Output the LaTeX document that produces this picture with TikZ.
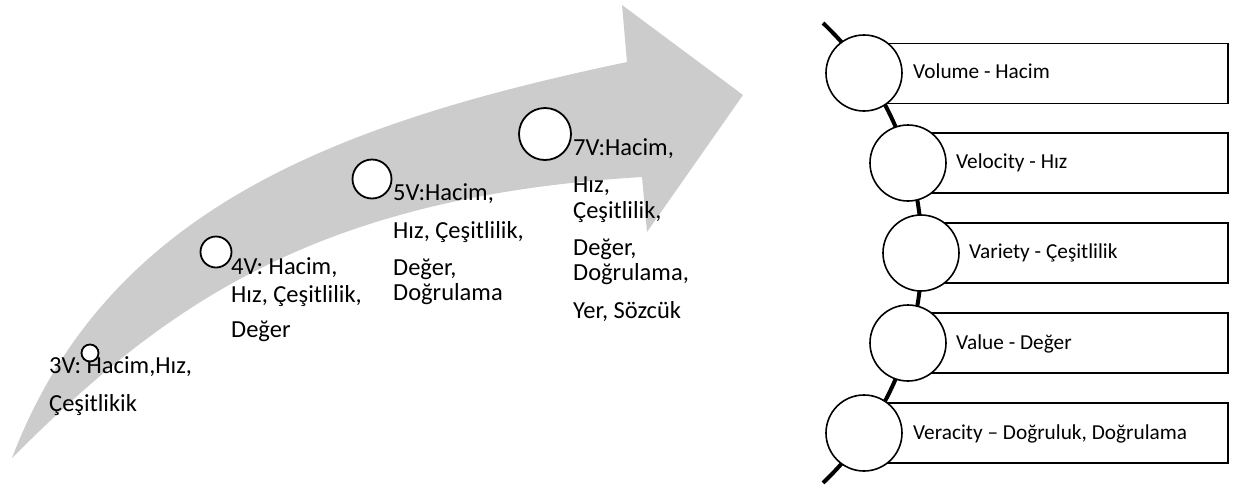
\documentclass[tikz,border=0pt]{standalone}
\usepackage{fontspec}
\setmainfont{Carlito}
\definecolor{arrowgray}{RGB}{204,204,204}
\begin{document}
\begin{tikzpicture}[x=1pt,y=-1pt,
  bubble/.style={circle,draw=black,line width=1.8pt,fill=white,inner sep=0pt},
  ring/.style={circle,draw=black,line width=1.6pt,fill=white,inner sep=0pt,minimum size=76pt},
  vbox/.style={rectangle,draw=black,line width=1.6pt,fill=white,minimum height=60pt,inner sep=0pt,anchor=west},
  ltxt/.style={anchor=base west,inner sep=0pt,font=\fontsize{24.5}{28}\selectfont},
  rtxt/.style={anchor=base west,inner sep=0pt,font=\fontsize{21.3}{25}\selectfont},
]
\useasboundingbox (0,0) rectangle (1237,488);
% big curved arrow
\fill[arrowgray] (12,458) .. controls (106.5,210.5) and (332,124) .. (627,62)
  -- (622,5) -- (743,95) -- (647,232) -- (642,177)
  .. controls (314,197) and (164,306) .. (12,458) -- cycle;
% left texts
\node[ltxt] (t3a) at (49,373) {3V: Hacim,Hız,};
\node[ltxt] (t3b) at (49,411) {Çeşitlikik};
\node[ltxt] (t4a) at (231,274) {4V: Hacim,};
\node[ltxt] (t4b) at (231,302) {Hız, Çeşitlilik,};
\node[ltxt] (t4c) at (231,337) {Değer};
\node[ltxt] (t5a) at (393,200) {5V:Hacim,};
\node[ltxt] (t5b) at (393,238) {Hız, Çeşitlilik,};
\node[ltxt] (t5c) at (393,275) {Değer,};
\node[ltxt] (t5d) at (393,300) {Doğrulama};
\node[ltxt] (t7a) at (573,155) {7V:Hacim,};
\node[ltxt] (t7b) at (573,192) {Hız,};
\node[ltxt] (t7c) at (573,218) {Çeşitlilik,};
\node[ltxt] (t7d) at (573,255) {Değer,};
\node[ltxt] (t7e) at (573,280) {Doğrulama,};
\node[ltxt] (t7f) at (573,318) {Yer, Sözcük};
% left circles
\node[bubble,minimum size=17pt] (c3) at (90,353) {};
\node[bubble,minimum size=31pt] (c4) at (216,252) {};
\node[bubble,minimum size=39pt] (c5) at (372,179) {};
\node[bubble,minimum size=52pt] (c7) at (545,134) {};
% right: spine
\coordinate (ltop) at (823,23);
\draw[line width=4pt] (ltop) arc[start angle=-46.5, end angle=46.5, radius=317] coordinate (lbot);
% boxes
\node[vbox,minimum width=363pt] (b1) at (864,73.5) {};
\node[vbox,minimum width=319pt] (b2) at (908,163) {};
\node[vbox,minimum width=306pt] (b3) at (921,253) {};
\node[vbox,minimum width=319pt] (b4) at (908,343) {};
\node[vbox,minimum width=363pt] (b5) at (864,433) {};
% circles
\node[ring] (r1) at (864,73) {};
\node[ring] (r2) at (908,163) {};
\node[ring] (r3) at (921,253) {};
\node[ring] (r4) at (908,343) {};
\node[ring] (r5) at (864,433) {};
% right texts
\node[rtxt] (v1) at (913,78) {Volume - Hacim};
\node[rtxt] (v2) at (956,168) {Velocity - Hız};
\node[rtxt] (v3) at (969,258) {Variety - Çeşitlilik};
\node[rtxt] (v4) at (956,349) {Value - Değer};
\node[rtxt] (v5) at (913,439) {Veracity – Doğruluk, Doğrulama};
\end{tikzpicture}
\end{document}
